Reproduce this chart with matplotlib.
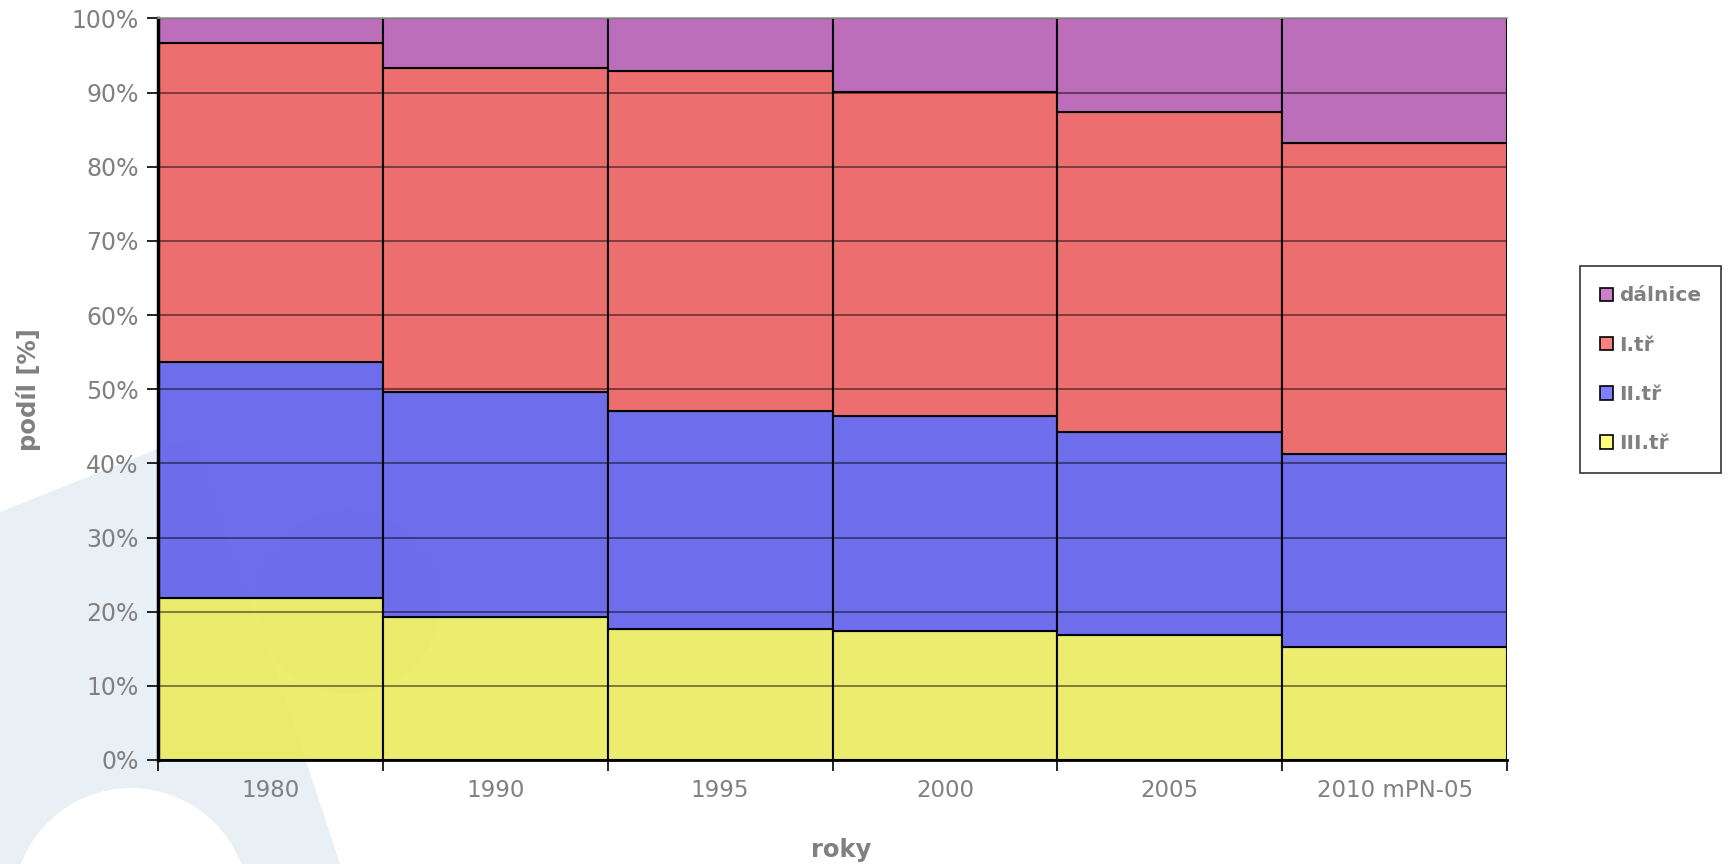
import numpy as np
import matplotlib
matplotlib.use('Agg')
import matplotlib.pyplot as plt
from matplotlib.patches import Patch, Polygon, Circle
from matplotlib.ticker import FixedLocator, PercentFormatter

# road network share by road class [%]
years = ['1980', '1990', '1995', '2000', '2005', '2010 mPN-05']
iii_tr = [21.8, 19.3, 17.7, 17.4, 16.9, 15.3]
ii_tr = [31.9, 30.3, 29.3, 29.0, 27.3, 25.9]
i_tr = [43.0, 43.7, 45.9, 43.7, 43.2, 42.0]
dalnice = [3.3, 6.7, 7.1, 9.9, 12.6, 16.8]

series = [('III.tř', iii_tr, '#ebeb66', '#ffff80'),
          ('II.tř', ii_tr, '#6666eb', '#8080ff'),
          ('I.tř', i_tr, '#eb6666', '#ff8080'),
          ('dálnice', dalnice, '#b966b7', '#cc80cc')]

grey = '#808080'
plt.rcParams['font.family'] = 'DejaVu Sans'

fig = plt.figure(figsize=(17.29, 8.64), dpi=100)

# faint logo in the background (pixel coordinates)
bg = fig.add_axes([0, 0, 1, 1], zorder=-5)
bg.set_xlim(0, 1729)
bg.set_ylim(864, 0)
bg.axis('off')
wm = '#e8eff5'
bg.add_patch(Polygon([(0, 512), (160, 448), (195, 440), (240, 575),
                      (286, 700), (340, 864), (0, 864)], closed=True,
                     facecolor=wm, edgecolor='none'))
bg.add_patch(Circle((348, 602), 92, facecolor=wm, edgecolor='none'))
bg.add_patch(Circle((131, 906), 118, facecolor='white', edgecolor='none'))

ax = fig.add_axes([0.0914, 0.1204, 0.7802, 0.8582])
ax.set_facecolor('none')

x = np.arange(len(years))
bottom = np.zeros(len(years))
for name, vals, col, _ in series:
    ax.bar(x, vals, width=1.0, bottom=bottom, color=col, alpha=0.95,
           edgecolor='black', linewidth=1.5, zorder=2)
    bottom += np.array(vals)

# gridlines drawn over the bars
for yv in range(10, 100, 10):
    ax.axhline(yv, color='black', alpha=0.5, linewidth=1.3, zorder=3)

ax.set_xlim(-0.5, len(years) - 0.5)
ax.set_ylim(0, 100)
ax.yaxis.set_major_locator(FixedLocator(range(0, 101, 10)))
ax.yaxis.set_major_formatter(PercentFormatter(decimals=0))

ax.set_xticks(x)
ax.set_xticklabels(years)
ax.xaxis.set_minor_locator(FixedLocator(np.arange(-0.5, len(years), 1.0)))
ax.tick_params(axis='x', which='major', length=0, pad=14, labelsize=16.5, labelcolor=grey)
ax.tick_params(axis='x', which='minor', length=8, width=1.2, direction='out')
ax.tick_params(axis='y', length=8, width=1.2, direction='out', pad=6,
               labelsize=17, labelcolor=grey)

ax.spines['left'].set_linewidth(2.5)
ax.spines['bottom'].set_linewidth(2.0)
ax.spines['top'].set_color('#999999')
ax.spines['top'].set_linewidth(1.2)
ax.spines['right'].set_visible(False)
for s in ax.spines.values():
    s.set_zorder(4)

fig.text(0.4864, 0.016, 'roky', ha='center', va='center',
         fontsize=17.5, fontweight='bold', color=grey)
ax.set_ylabel('podíl [%]', fontsize=17.5, fontweight='bold', color=grey, labelpad=22)

handles = [Patch(facecolor=lc, edgecolor='black', linewidth=1.2, label=name)
           for name, _, _, lc in series[::-1]]
leg = fig.legend(handles=handles, loc='center', bbox_to_anchor=(0.9545, 0.572),
                 frameon=True, fancybox=False, edgecolor='black',
                 prop={'weight': 'bold', 'size': 14.5}, labelcolor=grey,
                 handlelength=0.65, handleheight=0.65, handletextpad=0.3,
                 labelspacing=1.5, borderpad=1.0, borderaxespad=0)
leg.get_frame().set_linewidth(1.2)

fig.savefig('out.png', dpi=100)
